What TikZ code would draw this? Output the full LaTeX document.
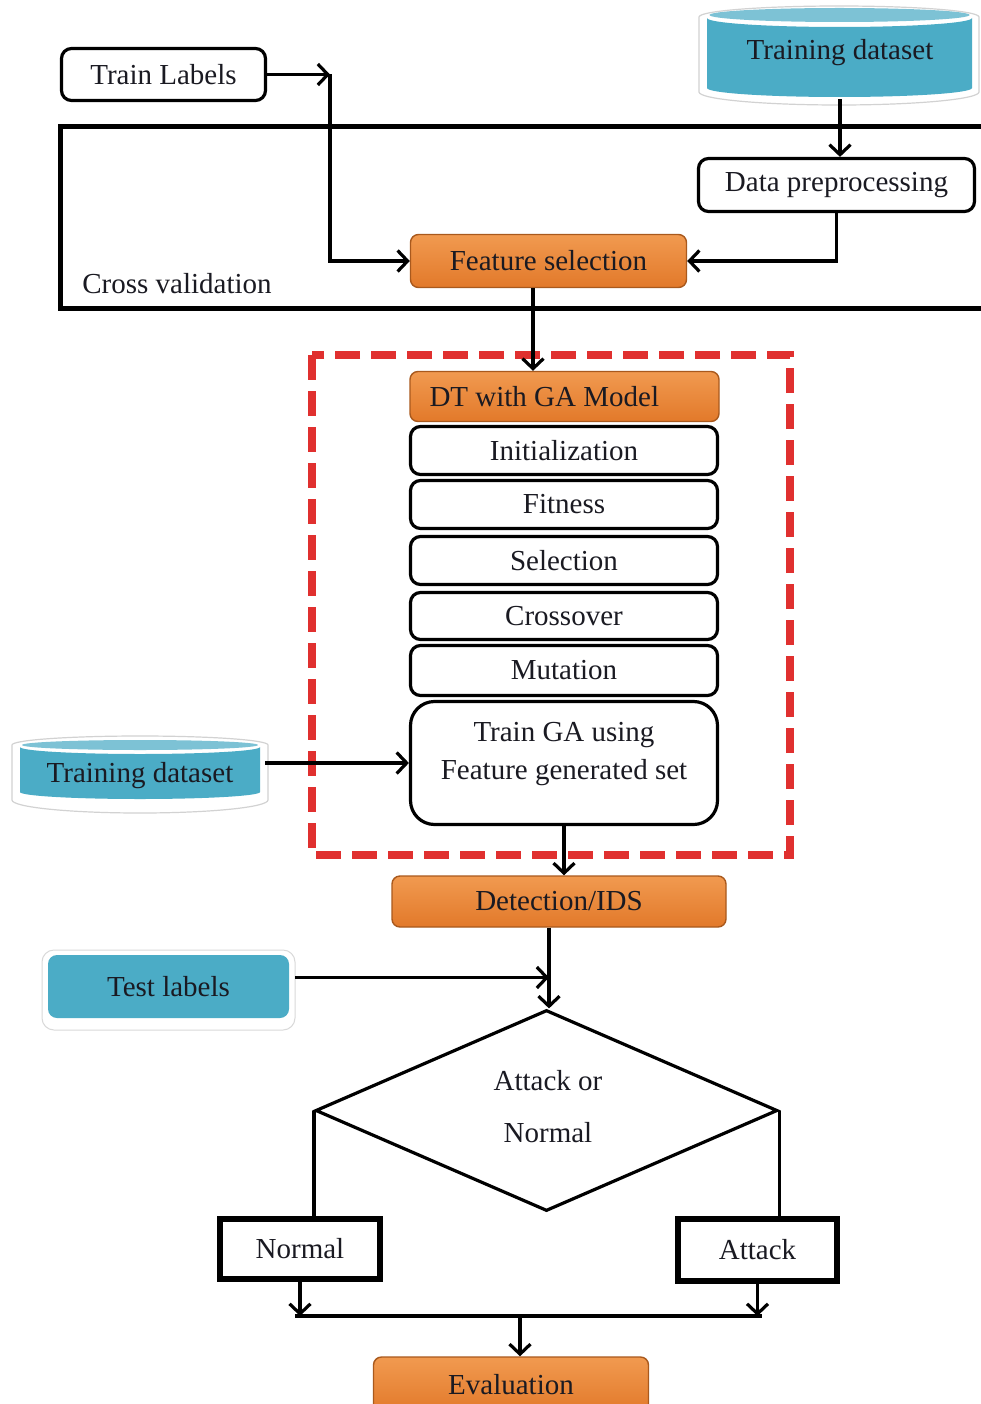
\documentclass[tikz,border=0pt]{standalone}
\usepackage{fontspec}
\setmainfont{Liberation Serif}
\usetikzlibrary{arrows.meta,shapes.geometric}
\definecolor{cblue}{HTML}{4BACC6}
\definecolor{ctop}{HTML}{7DC2D5}
\definecolor{orgtop}{HTML}{F19A50}
\definecolor{orgbot}{HTML}{E2792A}
\definecolor{orgline}{HTML}{A9591D}
\definecolor{ink}{HTML}{1A1A22}
\definecolor{dred}{HTML}{E0302F}
\begin{document}
\begin{tikzpicture}[x=1pt,y=-1pt,
  txt/.style={font=\fontsize{29}{35}\selectfont, text=ink, inner sep=0pt},
  wbox/.style={txt, draw=black, line width=3.2pt, fill=white, rounded corners=10pt},
  obox/.style={txt, draw=orgline, line width=1.4pt, rounded corners=8pt, top color=orgtop, bottom color=orgbot},
  ln/.style={line width=3.2pt, draw=black},
  arr/.style={ln, -{Straight Barb[length=10pt,width=21pt]}},
  redbox/.style={draw=dred, line width=8pt, dash pattern=on 25pt off 11pt}
]
\clip (0,0) rectangle (981,1404);
\fill[white] (0,0) rectangle (981,1404);

% cross validation frame
\node[draw, line width=5pt, minimum width=940pt, minimum height=181.5pt, inner sep=0pt] (cv) at (530.5,217.75) {};
\node[txt] (cvl) at (177,284) {Cross validation};

% top training dataset cylinder
\draw[gray!35, line width=1.2pt, fill=white] (699,17) -- (699,92) arc[start angle=180,end angle=360,x radius=140pt,y radius=13pt] -- (979,17) arc[start angle=0,end angle=180,x radius=140pt,y radius=11pt] -- cycle;
\fill[cblue] (707,18) -- (707,88) arc[start angle=180,end angle=360,x radius=132.5pt,y radius=9pt] -- (972,18) arc[start angle=360,end angle=180,x radius=132.5pt,y radius=9pt] -- cycle;
\fill[ctop] (839.5,15) ellipse[x radius=130pt, y radius=7pt];
\node[txt, minimum width=270pt, minimum height=92pt] (td1) at (840,53) {Training dataset};

% bottom-left training dataset cylinder
\draw[gray!35, line width=1.2pt, fill=white] (12,745) -- (12,800) arc[start angle=180,end angle=360,x radius=128pt,y radius=13pt] -- (268,745) arc[start angle=0,end angle=180,x radius=128pt,y radius=9pt] -- cycle;
\fill[cblue] (20,747) -- (20,792) arc[start angle=180,end angle=360,x radius=120pt,y radius=7pt] -- (260,747) arc[start angle=360,end angle=180,x radius=120pt,y radius=7pt] -- cycle;
\fill[ctop] (140,745) ellipse[x radius=118pt, y radius=5pt];
\node[txt, minimum width=250pt, minimum height=60pt] (td2) at (140,776) {Training dataset};

% test labels
\draw[gray!30, line width=1pt, fill=white, rounded corners=12pt] (42,950) rectangle (295,1030);
\node[txt, fill=cblue, rounded corners=9pt, minimum width=241pt, minimum height=63pt] (tst) at (168.5,986.5) {Test labels};

% top boxes
\node[wbox, minimum width=204pt, minimum height=52pt] (tl) at (163.5,74.5) {Train Labels};
\node[wbox, minimum width=276pt, minimum height=53pt] (dp) at (836.5,185) {Data preprocessing};
\node[obox, minimum width=276pt, minimum height=53pt] (fs) at (548.5,261) {Feature selection};

% red dashed frame
\draw[redbox] (312,355) rectangle (790,855);

% GA column
\node[obox, minimum width=309pt, minimum height=50pt] (dt) at (564.5,396.5) {};
\node[txt, anchor=west] (dtt) at ([xshift=20pt]dt.west) {DT with GA Model};
\node[wbox, minimum width=307pt, minimum height=48pt] (init) at (564,450.5) {Initialization};
\node[wbox, minimum width=307pt, minimum height=48pt] (fit) at (564,504.5) {Fitness};
\node[wbox, minimum width=307pt, minimum height=48pt] (sel) at (564,560.5) {Selection};
\node[wbox, minimum width=307pt, minimum height=47pt] (cro) at (564,616) {Crossover};
\node[wbox, minimum width=307pt, minimum height=50pt] (mut) at (564,670.5) {Mutation};
\node[wbox, rounded corners=24pt, minimum width=307pt, minimum height=123pt] (tga) at (564,763) {};
\node[txt, align=center, font=\fontsize{29}{38}\selectfont] (tgat) at (564,754) {Train GA using\\Feature generated set};

% lower part
\node[obox, minimum width=334pt, minimum height=51pt] (det) at (559,901.5) {Detection/IDS};
\node[draw=black, line width=3.2pt, diamond, aspect=2.3, minimum width=462pt, minimum height=201pt, inner sep=0pt] (dec) at (546.5,1110.5) {};
\node[txt, align=center, font=\fontsize{29}{52}\selectfont] (dect) at (548,1107) {Attack or\\Normal};
\node[txt, draw=black, line width=6pt, minimum width=160pt, minimum height=60pt] (nor) at (300,1249) {Normal};
\node[txt, draw=black, line width=6pt, minimum width=159pt, minimum height=62pt] (att) at (757.5,1250) {Attack};
\node[obox, minimum width=275pt, minimum height=56pt] (ev) at (511,1385) {Evaluation};

% coordinates
\coordinate (c1) at (330,74.5);
\coordinate (fsx) at (533,0);
\coordinate (mL) at (295,1316);
\coordinate (mR) at (762,1316);
\coordinate (mM) at (520,1316);
\coordinate (tlx) at ([yshift=9pt]tst.east);
\coordinate (dx) at (549,0);

% connectors
\draw[arr] (tl.east) -- (c1);
\draw[arr] (c1) |- (fs.west);
\draw[arr] (td1.south) -- (td1.south |- dp.north);
\draw[arr] (dp.south) |- (fs.east);
\draw[arr] (fs.south -| fsx) -- (fsx |- dt.north);
\draw[arr] (td2.east |- tga.west) -- (tga.west);
\draw[arr] (tga.south) -- (tga.south |- det.north);
\draw[arr] (det.south -| dx) -- (dx |- dec.north);
\draw[arr] ([xshift=6pt]tlx) -- (tlx -| dx);
\draw[ln] (dec.west) -- (dec.west |- nor.north);
\draw[ln] (dec.east) -- (dec.east |- att.north);
\draw[arr] (nor.south) -- (nor.south |- mL);
\draw[arr] (att.south) -- (att.south |- mR);
\draw[ln] (mL) -- (mR);
\draw[arr] (mM) -- (mM |- ev.north);
\end{tikzpicture}
\end{document}
